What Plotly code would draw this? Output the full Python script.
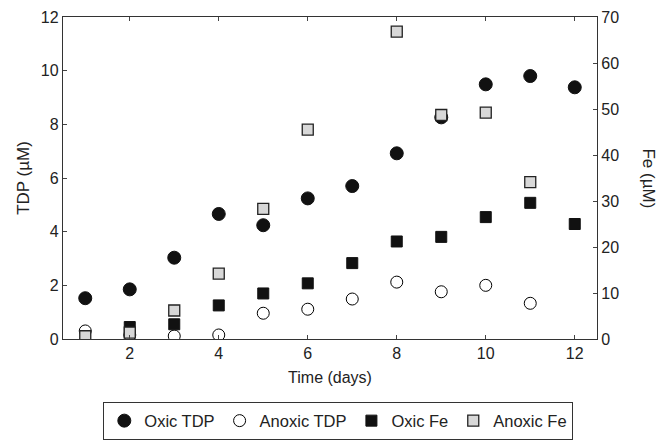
import plotly.graph_objects as go

# values
days = [1, 2, 3, 4, 5, 6, 7, 8, 9, 10, 11, 12]
oxic_tdp = [1.52, 1.85, 3.03, 4.66, 4.24, 5.24, 5.70, 6.92, 8.26, 9.49, 9.80, 9.38]
anoxic_tdp_days = [1, 2, 3, 4, 5, 6, 7, 8, 9, 10, 11]
anoxic_tdp = [0.30, 0.15, 0.11, 0.15, 0.96, 1.11, 1.49, 2.12, 1.76, 2.00, 1.33]
oxic_fe_days = [2, 3, 4, 5, 6, 7, 8, 9, 10, 11, 12]
oxic_fe = [2.6, 3.2, 7.3, 9.9, 12.1, 16.5, 21.2, 22.2, 26.5, 29.6, 25.0]
anoxic_fe_days = [1, 2, 3, 4, 5, 6, 8, 9, 10, 11]
anoxic_fe = [0.6, 1.4, 6.2, 14.2, 28.3, 45.5, 66.8, 48.7, 49.2, 34.1]

font = "Liberation Sans, Arial, sans-serif"
ink = "#222222"

fig = go.Figure()
fig.add_trace(go.Scatter(x=anoxic_tdp_days, y=anoxic_tdp, mode="markers", name="Anoxic TDP",
                         marker=dict(symbol="circle", size=12, color="white",
                                     line=dict(color="black", width=1))))
fig.add_trace(go.Scatter(x=oxic_fe_days, y=oxic_fe, mode="markers", name="Oxic Fe", yaxis="y2",
                         marker=dict(symbol="square", size=11, color="#111111",
                                     line=dict(color="#111111", width=1))))
fig.add_trace(go.Scatter(x=anoxic_fe_days, y=anoxic_fe, mode="markers", name="Anoxic Fe", yaxis="y2",
                         marker=dict(symbol="square", size=11, color="#d8d8d8",
                                     line=dict(color="#222222", width=1.3))))
fig.add_trace(go.Scatter(x=days, y=oxic_tdp, mode="markers", name="Oxic TDP",
                         marker=dict(symbol="circle", size=13, color="#111111",
                                     line=dict(color="#111111", width=1))))

fig.update_layout(
    width=665, height=447,
    margin=dict(l=63, r=68, t=17, b=108, autoexpand=False),
    paper_bgcolor="white", plot_bgcolor="white",
    font=dict(family=font, size=16, color=ink),
    showlegend=True,
    legend=dict(orientation="h", x=0.515, xanchor="center", y=-0.196, yanchor="top",
                bordercolor="#333333", borderwidth=1.3, font=dict(size=16.5, color=ink),
                traceorder="normal", itemwidth=30),
    xaxis=dict(range=[0.5, 12.5], tickvals=[2, 4, 6, 8, 10, 12], ticks="inside", ticklen=4,
               showline=True, linecolor="#333333", linewidth=1.3, mirror="ticks",
               showgrid=False, zeroline=False, automargin=False,
               title=dict(text="Time (days)", font=dict(size=16), standoff=10)),
    yaxis=dict(range=[0, 12], tickvals=[0, 2, 4, 6, 8, 10, 12], ticks="inside", ticklen=4,
               showline=True, linecolor="#333333", linewidth=1.3,
               showgrid=False, zeroline=False, automargin=False,
               title=dict(text="TDP (µM)", font=dict(size=17), standoff=6)),
    yaxis2=dict(range=[0, 70], tickvals=[0, 10, 20, 30, 40, 50, 60, 70], ticks="inside", ticklen=4,
                overlaying="y", side="right", showline=True, linecolor="#333333", linewidth=1.3,
                showgrid=False, zeroline=False, automargin=False),
)

# legend order as in the original
order = ["Oxic TDP", "Anoxic TDP", "Oxic Fe", "Anoxic Fe"]
for i, tr in enumerate(fig.data):
    tr.legendrank = order.index(tr.name) + 1

fig.add_annotation(text="Fe (µM)", xref="paper", yref="paper", x=1.118, y=0.5,
                   textangle=90, showarrow=False, font=dict(size=17, color=ink))

# page has a default 8px body margin; drop it so the figure sits at 0,0
fig.write_html("out.html", config={"displayModeBar": False},
               post_script="document.body.style.margin='0';")
